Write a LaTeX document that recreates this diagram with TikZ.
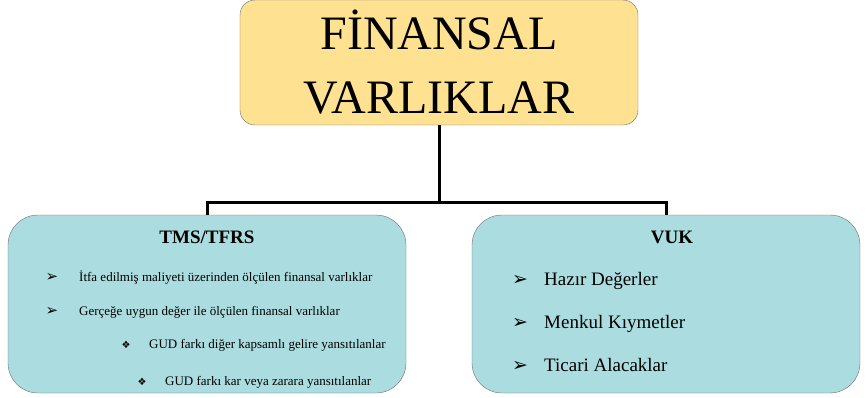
\documentclass[tikz,border=0pt]{standalone}
\usepackage{fontspec}
\setmainfont{Liberation Serif}
\newfontfamily\dingfont{DejaVu Sans}
\usepackage{tikz}
\definecolor{sari}{HTML}{FFE192}
\definecolor{mavi}{HTML}{ABDCDF}
\definecolor{kenar}{HTML}{6E6E6E}

\begin{document}
\begin{tikzpicture}[x=1pt, y=-1pt,
      every node/.style = {inner sep=0pt},
      kok/.style = {draw=kenar, fill=sari, rounded corners=15pt, align=center,
                    minimum width=398pt, minimum height=125pt,
                    font=\fontsize{48}{64}\selectfont},
      dal/.style = {draw=kenar, fill=mavi, rounded corners=30pt, minimum height=178pt},
      baslik/.style = {anchor=base, font=\fontsize{19}{22}\selectfont\bfseries},
      madde/.style = {anchor=base west, font=\fontsize{13}{15}\selectfont},
      buyuk/.style = {anchor=base west, font=\fontsize{19}{22}\selectfont},
      isaret/.style = {anchor=base, font=\dingfont\fontsize{10}{12}\selectfont},
      ok/.style = {anchor=base, font=\dingfont\fontsize{15}{17}\selectfont},
      bag/.style = {line width=3pt}]
    \useasboundingbox (0,0) rectangle (867,397);
    \node[kok] (fv) at (439,62.5) {F\.INANSAL\\VARLIKLAR};
    \node[dal, minimum width=398pt] (tms) at (207,304) {};
    \node[dal, minimum width=388pt] (vuk) at (666,304) {};
    \coordinate (orta) at (439,202);
    \draw[bag] (fv.south) -- (orta);
    \draw[bag] (tms.north) |- (orta) -| (vuk.north);
    % TMS/TFRS
    \node[baslik] (tmsb) at (207,243) {TMS/TFRS};
    \node[ok] (i1) at (52,281) {➢};
    \node[madde] (m1) at (79,281) {\.Itfa edilmiş maliyeti üzerinden ölçülen finansal varlıklar};
    \node[ok] (i2) at (52,315) {➢};
    \node[madde] (m2) at (79,315) {Gerçeğe uygun değer ile ölçülen finansal varlıklar};
    \node[isaret] (i3) at (126,348) {❖};
    \node[madde] (m3) at (149,348) {GUD farkı diğer kapsamlı gelire yansıtılanlar};
    \node[isaret] (i4) at (142,385) {❖};
    \node[madde] (m4) at (165,385) {GUD farkı kar veya zarara yansıtılanlar};
    % VUK
    \node[baslik] (vukb) at (672,243) {VUK};
    \foreach \y/\yazi in {285/Hazır Değerler, 328/Menkul Kıymetler, 371/Ticari Alacaklar} {
      \node[ok, font=\dingfont\fontsize{19}{21}\selectfont] at (520,\y) {➢};
      \node[buyuk] at (544,\y) {\yazi};
    }
\end{tikzpicture}
\end{document}
